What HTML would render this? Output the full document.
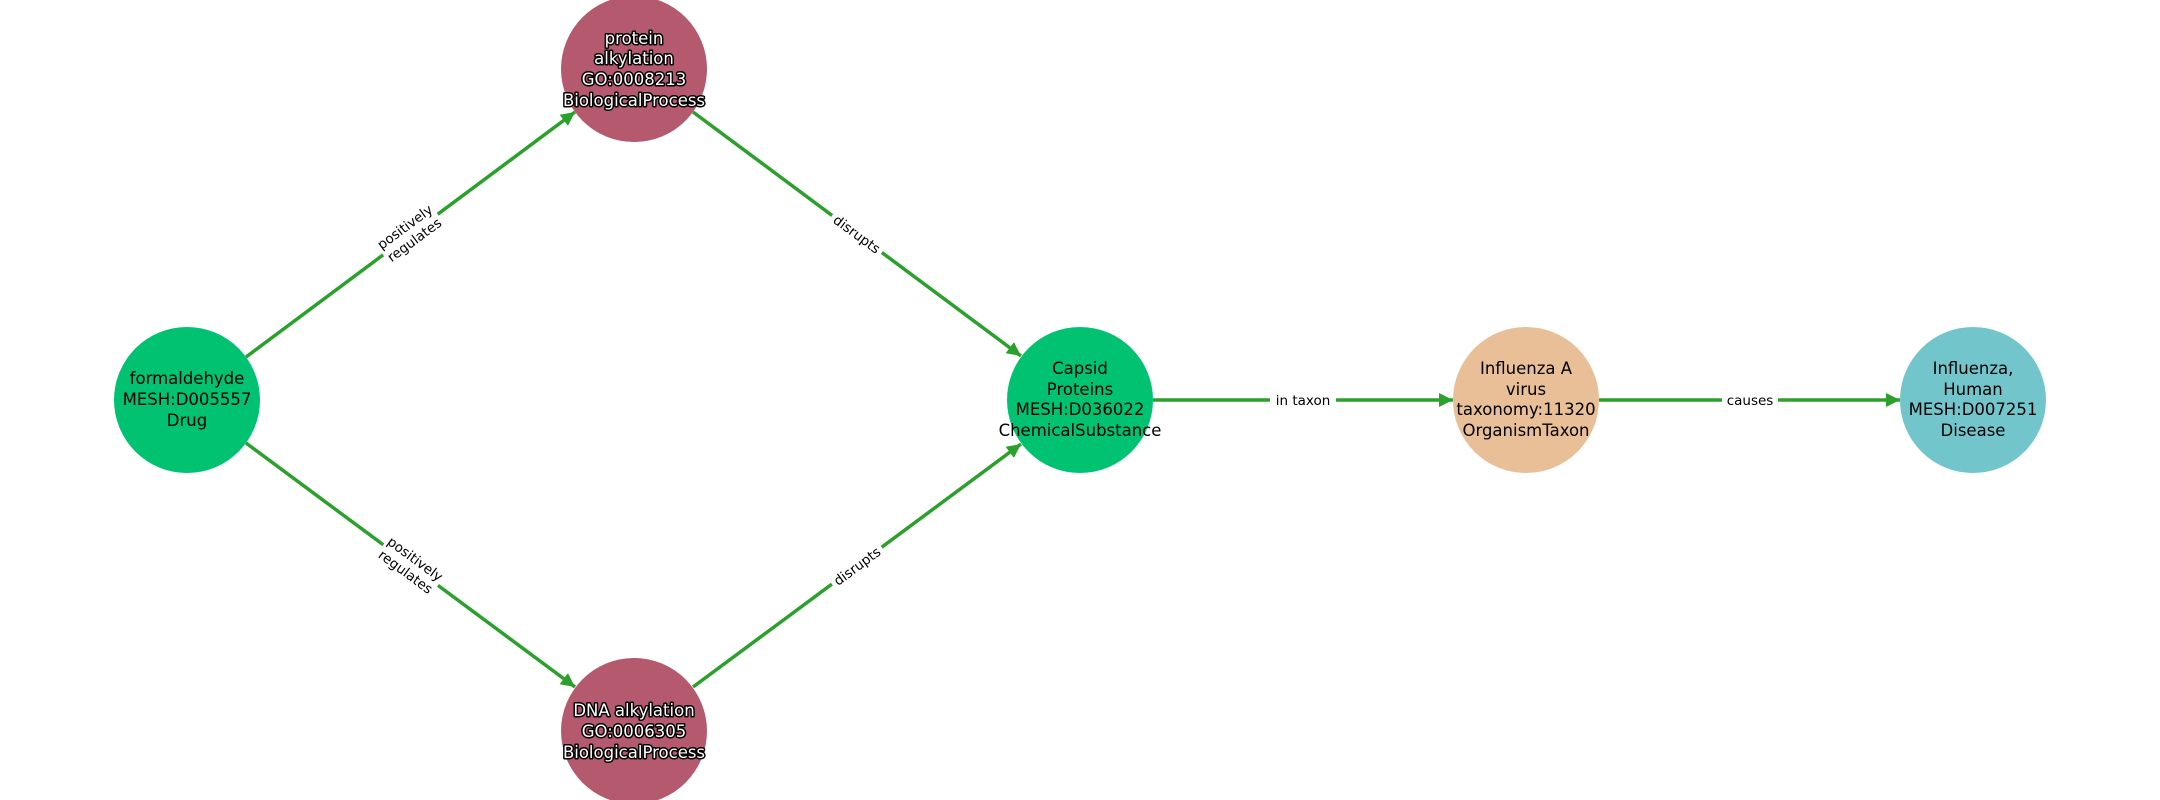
<!DOCTYPE html>
<html><head><meta charset="utf-8"><style>
html,body{margin:0;padding:0;background:#fff;}
svg{display:block;}
text{font-family:"DejaVu Sans","Liberation Sans",sans-serif;}
.n{font-size:16.5px;fill:#000;text-anchor:middle;}
.w{font-size:16.5px;fill:#fff;stroke:#000;stroke-width:3px;paint-order:stroke;stroke-linejoin:round;text-anchor:middle;}
.e{font-size:13.5px;fill:#000;text-anchor:middle;}
</style></head><body>
<svg width="2160" height="800" viewBox="0 0 2160 800" xmlns="http://www.w3.org/2000/svg">
<defs>
<marker id="a" viewBox="0 0 10 10" refX="10" refY="5" markerWidth="4" markerHeight="4" orient="auto" markerUnits="strokeWidth">
<path d="M0,0 L10,5 L0,10 z" fill="#2ca02c"/></marker>
</defs>
<g stroke="#2ca02c" stroke-width="3.5" fill="none" marker-end="url(#a)">
<line x1="246" y1="357" x2="575" y2="112"/>
<line x1="246" y1="443" x2="575" y2="687"/>
<line x1="693" y1="112" x2="1021" y2="356"/>
<line x1="693" y1="687" x2="1021" y2="444"/>
<line x1="1153" y1="400" x2="1453" y2="400"/>
<line x1="1599" y1="400" x2="1900" y2="400"/>
</g>
<g transform="translate(410,234) rotate(-36.5)">
<rect x="-34" y="-18" width="68" height="36" fill="#fff"/>
<text class="e" y="-4">positively</text><text class="e" y="12">regulates</text></g>
<g transform="translate(410,566) rotate(36.5)">
<rect x="-34" y="-18" width="68" height="36" fill="#fff"/>
<text class="e" y="-4">positively</text><text class="e" y="12">regulates</text></g>
<g transform="translate(857,234) rotate(36.5)">
<rect x="-31" y="-10" width="62" height="20" fill="#fff"/>
<text class="e" y="5">disrupts</text></g>
<g transform="translate(857,566) rotate(-36.5)">
<rect x="-31" y="-10" width="62" height="20" fill="#fff"/>
<text class="e" y="5">disrupts</text></g>
<rect x="1270" y="390" width="66" height="20" fill="#fff"/>
<text class="e" x="1303" y="405">in taxon</text>
<rect x="1722" y="390" width="56" height="20" fill="#fff"/>
<text class="e" x="1750" y="405">causes</text>
<circle cx="187" cy="400" r="73" fill="#00c271"/>
<circle cx="634" cy="69" r="73" fill="#b5596f"/>
<circle cx="634" cy="731" r="73" fill="#b5596f"/>
<circle cx="1080" cy="400" r="73" fill="#00c271"/>
<circle cx="1526" cy="400" r="73" fill="#e8bf96"/>
<circle cx="1973" cy="400" r="73" fill="#72c6cb"/>
<text class="n" x="187" y="384">formaldehyde</text>
<text class="n" x="187" y="405">MESH:D005557</text>
<text class="n" x="187" y="426">Drug</text>
<text class="w" x="634" y="44">protein</text>
<text class="w" x="634" y="64">alkylation</text>
<text class="w" x="634" y="85">GO:0008213</text>
<text class="w" x="634" y="106">BiologicalProcess</text>
<text class="w" x="634" y="716">DNA alkylation</text>
<text class="w" x="634" y="737">GO:0006305</text>
<text class="w" x="634" y="758">BiologicalProcess</text>
<text class="n" x="1080" y="374">Capsid</text>
<text class="n" x="1080" y="395">Proteins</text>
<text class="n" x="1080" y="415">MESH:D036022</text>
<text class="n" x="1080" y="436">ChemicalSubstance</text>
<text class="n" x="1526" y="374">Influenza A</text>
<text class="n" x="1526" y="395">virus</text>
<text class="n" x="1526" y="415">taxonomy:11320</text>
<text class="n" x="1526" y="436">OrganismTaxon</text>
<text class="n" x="1973" y="374">Influenza,</text>
<text class="n" x="1973" y="395">Human</text>
<text class="n" x="1973" y="415">MESH:D007251</text>
<text class="n" x="1973" y="436">Disease</text>
</svg>
</body></html>
